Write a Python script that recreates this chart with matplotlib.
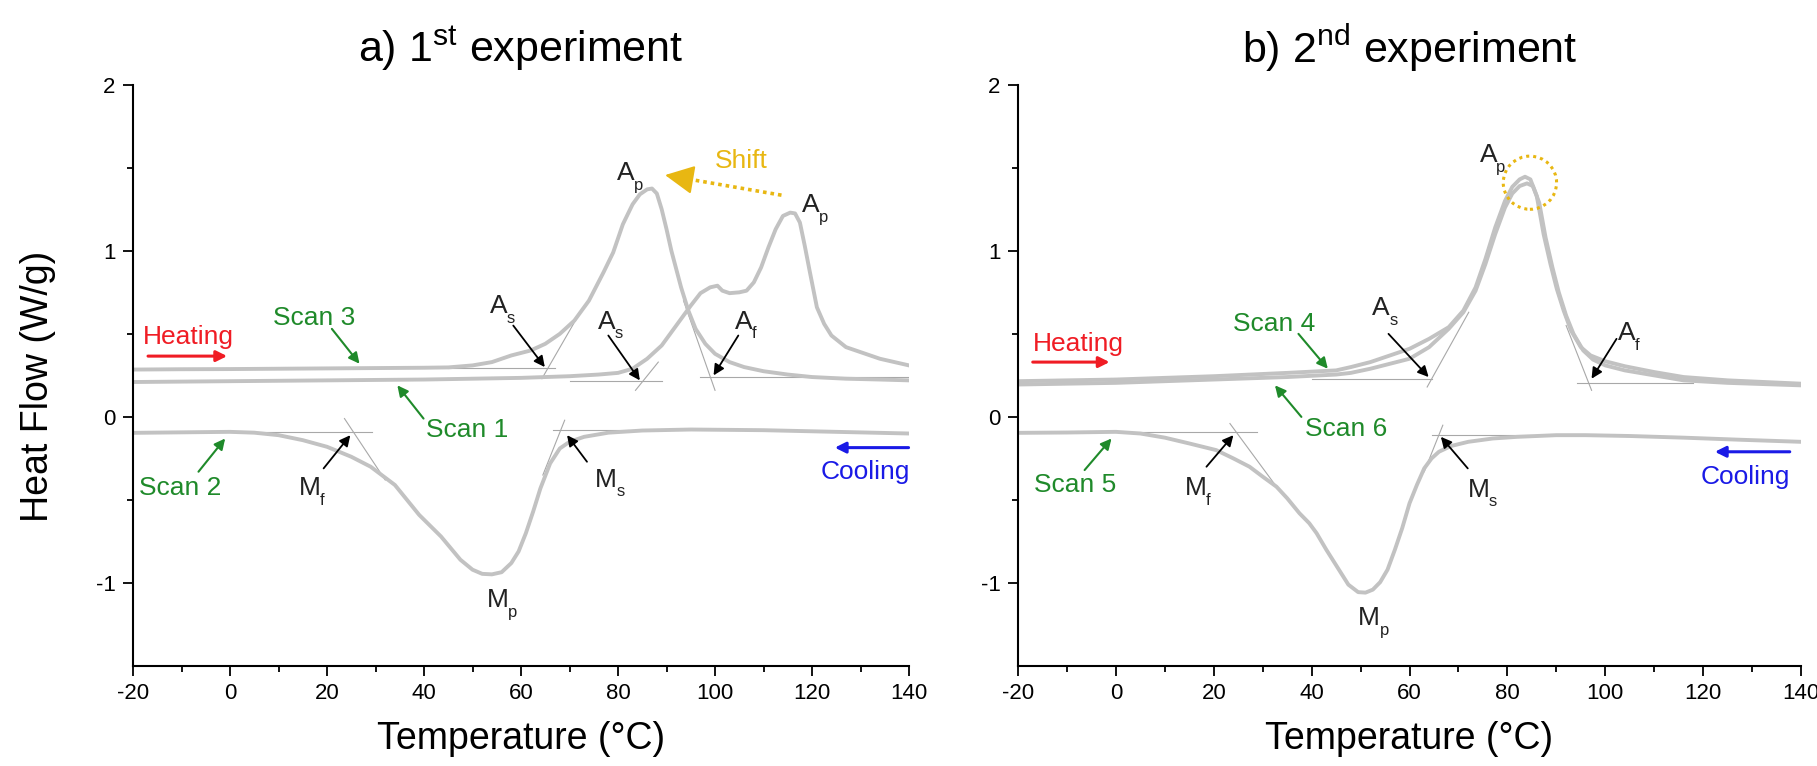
import numpy as np
import matplotlib
matplotlib.use("Agg")
import matplotlib.pyplot as plt
from matplotlib.patches import Ellipse

plt.rcParams['font.family'] = ['Liberation Sans', 'DejaVu Sans']
plt.rcParams['mathtext.fontset'] = 'custom'
plt.rcParams['mathtext.rm'] = 'Liberation Sans'
plt.rcParams['axes.unicode_minus'] = False

# ---- data (Temperature in C, heat flow in W/g) ----
# 1st experiment
scan3_t = [-20, -10, 0, 10, 20, 30, 40, 45, 50, 54, 58, 62, 65, 68, 71, 74, 77, 79, 81, 83, 84.5, 86, 87,
           88, 89, 90, 91, 92, 93, 94.5, 96, 98, 100, 103, 106, 110, 115, 120, 127, 134, 140]
scan3_v = [0.285, 0.287, 0.288, 0.29, 0.292, 0.294, 0.296, 0.298, 0.31, 0.33, 0.37, 0.40, 0.44, 0.50, 0.58,
           0.70, 0.87, 0.99, 1.16, 1.28, 1.34, 1.37, 1.375, 1.345, 1.25, 1.13, 1.00, 0.89, 0.78, 0.64, 0.53,
           0.44, 0.38, 0.33, 0.30, 0.275, 0.255, 0.24, 0.23, 0.225, 0.22]

scan1_t = [-20, 0, 20, 40, 60, 70, 76, 80, 83, 86, 89, 92, 95, 97, 99, 100.5, 101.5, 103, 105, 106.5, 108,
           109.5, 111, 112.5, 114, 115.5, 116.5, 117.5, 118.5, 119.5, 121, 122.5, 124, 127, 130, 134, 140]
scan1_v = [0.21, 0.215, 0.22, 0.225, 0.235, 0.245, 0.255, 0.265, 0.29, 0.35, 0.43, 0.55, 0.67, 0.745, 0.78,
           0.79, 0.76, 0.745, 0.75, 0.76, 0.81, 0.90, 1.02, 1.13, 1.21, 1.23, 1.225, 1.17, 1.03, 0.88, 0.66,
           0.56, 0.49, 0.42, 0.39, 0.35, 0.31]

scan2_t = [-20, -10, 0, 5, 10, 15, 20, 25, 29, 34, 39, 43.5, 47.5, 50, 52, 54, 56, 58, 59.5, 61, 62.5, 64,
           66, 68, 70, 73, 78, 85, 95, 110, 125, 140]
scan2_v = [-0.096, -0.093, -0.09, -0.095, -0.11, -0.14, -0.18, -0.24, -0.30, -0.41, -0.59, -0.72, -0.86,
           -0.92, -0.945, -0.948, -0.935, -0.88, -0.81, -0.70, -0.57, -0.43, -0.28, -0.19, -0.15, -0.12,
           -0.095, -0.082, -0.076, -0.08, -0.09, -0.10]

# 2nd experiment
scan4_t = [-20, 0, 20, 35, 45, 48, 52, 56, 60, 64, 68, 71, 73.5, 75.5, 77.5, 79.5, 81, 82.5, 83.6, 84.7,
           86, 87.4, 88.8, 90.1, 91.5, 93, 95, 97, 100, 104, 110, 116, 125, 140]
scan4_v = [0.215, 0.225, 0.245, 0.265, 0.28, 0.30, 0.33, 0.37, 0.41, 0.47, 0.54, 0.64, 0.78, 0.95, 1.14,
           1.30, 1.385, 1.43, 1.446, 1.43, 1.33, 1.10, 0.92, 0.77, 0.64, 0.52, 0.42, 0.37, 0.335, 0.305,
           0.27, 0.24, 0.22, 0.20]

scan6_t = [-20, 0, 20, 35, 45, 48, 52, 56, 60, 64, 68, 71, 73.5, 75.5, 77.5, 79.5, 81, 82.5, 84, 85.2,
           86.5, 87.8, 89.2, 90.5, 92, 93.5, 95.5, 97.5, 100, 104, 110, 116, 125, 140]
scan6_v = [0.195, 0.205, 0.225, 0.24, 0.255, 0.265, 0.29, 0.32, 0.35, 0.42, 0.53, 0.63, 0.76, 0.92, 1.10,
           1.26, 1.345, 1.39, 1.406, 1.39, 1.29, 1.08, 0.90, 0.75, 0.61, 0.50, 0.40, 0.345, 0.31, 0.28,
           0.25, 0.22, 0.205, 0.19]

scan5_t = [-20, -10, 0, 5, 10, 15, 20.5, 24, 27.3, 30, 32.8, 35, 37.5, 39.5, 41, 43, 44.5, 46, 47.5, 49.5,
           51, 52.5, 54, 55.5, 57, 58.5, 60, 61.5, 63, 64.5, 66, 68.5, 72, 77, 82, 90, 96, 105, 116, 128, 140]
scan5_v = [-0.096, -0.094, -0.09, -0.10, -0.125, -0.16, -0.20, -0.25, -0.30, -0.36, -0.42, -0.49, -0.58,
           -0.64, -0.70, -0.80, -0.87, -0.94, -1.01, -1.055, -1.058, -1.04, -0.995, -0.92, -0.80, -0.67,
           -0.52, -0.41, -0.31, -0.25, -0.21, -0.175, -0.15, -0.13, -0.12, -0.11, -0.11, -0.115, -0.125,
           -0.138, -0.15]

# onset / end construction lines: ((t0, v0), (t1, v1))
guides_a = [((45, 0.295), (67, 0.295)), ((64.3, 0.23), (72, 0.62)),
            ((70, 0.217), (89, 0.217)), ((83.6, 0.16), (88.3, 0.33)),
            ((97, 0.24), (140, 0.24)), ((93.5, 0.70), (100, 0.16)),
            ((0, -0.09), (29.3, -0.09)), ((23.6, -0.01), (32, -0.38)),
            ((66.5, -0.08), (82, -0.08)), ((64.5, -0.35), (69, -0.02))]
guides_b = [((40, 0.23), (64.5, 0.23)), ((63.6, 0.18), (72.1, 0.63)),
            ((94.2, 0.205), (118, 0.205)), ((92, 0.55), (97.2, 0.16)),
            ((0, -0.09), (28.9, -0.09)), ((23.3, -0.04), (32.8, -0.42)),
            ((64.5, -0.11), (85, -0.11)), ((63.0, -0.33), (66.8, -0.05))]

# labels: (t, v, letter, subscript), t/v = left-baseline of the main letter
labels_a = [(79.7, 1.426, 'A', 'p'), (117.9, 1.235, 'A', 'p'), (53.6, 0.623, 'A', 's'),
            (75.9, 0.532, 'A', 's'), (104.1, 0.532, 'A', 'f'), (14.2, -0.47, 'M', 'f'),
            (75.3, -0.42, 'M', 's'), (53.0, -1.145, 'M', 'p')]
labels_b = [(74.3, 1.536, 'A', 'p'), (52.4, 0.613, 'A', 's'), (102.6, 0.462, 'A', 'f'),
            (14.1, -0.472, 'M', 'f'), (71.9, -0.48, 'M', 's'), (49.5, -1.255, 'M', 'p')]

# black pointer arrows: (from, to)
pointers_a = [((58.4, 0.55), (64.9, 0.30)), ((78.0, 0.49), (84.5, 0.22)), ((104.8, 0.49), (99.7, 0.25)),
              ((19.3, -0.31), (24.8, -0.11)), ((73.6, -0.27), (69.5, -0.11))]
pointers_b = [((55.7, 0.50), (63.9, 0.24)), ((102.3, 0.47), (97.2, 0.23)),
              ((18.5, -0.30), (24.0, -0.11)), ((71.9, -0.31), (66.4, -0.12))]

# scan labels: (text, text position, arrow from, arrow to)
scans_a = [('Scan 3', (17.4, 0.594), (21, 0.53), (26.7, 0.32)),
           ('Scan 1', (48.9, -0.08), (39.9, -0.01), (34.5, 0.19)),
           ('Scan 2', (-10.2, -0.43), (-6.5, -0.33), (-1.0, -0.13))]
scans_b = [('Scan 4', (32.4, 0.56), (37.3, 0.50), (43.3, 0.29)),
           ('Scan 6', (47.1, -0.07), (37.9, 0.0), (32.5, 0.19)),
           ('Scan 5', (-8.4, -0.41), (-6.4, -0.32), (-0.9, -0.13))]

heat_a = ((-8.5, 0.48), (-16.9, 0.366), (-0.6, 0.366))
heat_b = ((-7.6, 0.44), (-17.0, 0.33), (-1.3, 0.33))
cool_a = ((130.9, -0.33), (139.9, -0.185), (124.7, -0.185))
cool_b = ((128.7, -0.36), (137.7, -0.21), (122.4, -0.21))

shift_text = (105.5, 1.54)
shift_line = ((113.7, 1.335), (93.5, 1.437))
shift_head = ((93.5, 1.437), (89.7, 1.456))
peak_ring = (84.6, 1.41, 10.9, 0.32)

CURVE = '#c2c2c2'
GUIDE = '#a8a8a8'
GREEN = '#1f8a2a'
RED = '#f01c24'
BLUE = '#1a1ae6'
GOLD = '#e8b712'
FS = 19
SUB_FS = 12
LETTER_W = {'A': 0.667 * FS, 'M': 0.833 * FS}

fig = plt.figure(figsize=(18.17, 7.66), dpi=100)
ax1 = fig.add_axes([0.0732, 0.1305, 0.4271, 0.7589])
ax2 = fig.add_axes([0.5603, 0.1305, 0.4309, 0.7589])


def style(ax, title):
    ax.set_xlim(-20, 140)
    ax.set_ylim(-1.5, 2)
    ax.set_xticks(np.arange(-20, 141, 20))
    ax.set_xticks(np.arange(-10, 140, 20), minor=True)
    ax.set_yticks([-1, 0, 1, 2])
    ax.set_yticks([-0.5, 0.5, 1.5], minor=True)
    for s in ['top', 'right']:
        ax.spines[s].set_visible(False)
    for s in ['left', 'bottom']:
        ax.spines[s].set_linewidth(1.5)
    ax.tick_params(which='major', direction='out', length=7.5, width=1.3, labelsize=16, pad=5)
    ax.tick_params(which='minor', direction='out', length=4, width=1.3)
    ax.set_title(title, fontsize=31, pad=16)
    ax.set_xlabel('Temperature (°C)', fontsize=27)
    ax.xaxis.set_label_coords(0.5, -0.095)
    ax.xaxis.label.set_va('top')


def decorate(ax, guides, labels, pointers, scans, heat, cool):
    for (t0, v0), (t1, v1) in guides:
        ax.plot([t0, t1], [v0, v1], color=GUIDE, lw=0.8, zorder=1)
    for t, v, letter, sub in labels:
        ax.text(t, v, letter, fontsize=FS, color='#222222', ha='left', va='baseline')
        ax.annotate(sub, xy=(t, v), xytext=(LETTER_W[letter] - 0.5, -7), textcoords='offset points',
                    fontsize=SUB_FS, color='#222222', ha='left', va='baseline')
    for p0, p1 in pointers:
        ax.annotate('', xy=p1, xytext=p0,
                    arrowprops=dict(arrowstyle='-|>', color='k', lw=1.3, mutation_scale=16,
                                    shrinkA=0, shrinkB=0))
    for txt, pos, p0, p1 in scans:
        ax.text(pos[0], pos[1], txt, color=GREEN, fontsize=FS, ha='center', va='center')
        ax.annotate('', xy=p1, xytext=p0,
                    arrowprops=dict(arrowstyle='-|>', color=GREEN, lw=1.5, mutation_scale=16,
                                    shrinkA=0, shrinkB=0))
    ax.text(heat[0][0], heat[0][1], 'Heating', color=RED, fontsize=FS, ha='center', va='center')
    ax.annotate('', xy=heat[2], xytext=heat[1],
                arrowprops=dict(arrowstyle='-|>', color=RED, lw=2.2, mutation_scale=16,
                                shrinkA=0, shrinkB=0))
    ax.text(cool[0][0], cool[0][1], 'Cooling', color=BLUE, fontsize=FS, ha='center', va='center')
    ax.annotate('', xy=cool[2], xytext=cool[1],
                arrowprops=dict(arrowstyle='-|>', color=BLUE, lw=2.2, mutation_scale=16,
                                shrinkA=0, shrinkB=0))


# panel a
style(ax1, r'a) 1$^{\mathregular{st}}$ experiment')
ax1.plot(scan3_t, scan3_v, color=CURVE, lw=2.8, zorder=2)
ax1.plot(scan1_t, scan1_v, color=CURVE, lw=2.8, zorder=2)
ax1.plot(scan2_t, scan2_v, color=CURVE, lw=2.8, zorder=2)
decorate(ax1, guides_a, labels_a, pointers_a, scans_a, heat_a, cool_a)
ax1.text(shift_text[0], shift_text[1], 'Shift', color=GOLD, fontsize=FS, ha='center', va='center')
ax1.plot([shift_line[0][0], shift_line[1][0]], [shift_line[0][1], shift_line[1][1]],
         color=GOLD, lw=2.6, linestyle=(0, (1, 1.1)), zorder=3)
ax1.annotate('', xy=shift_head[1], xytext=shift_head[0],
             arrowprops=dict(arrowstyle='-|>,head_length=1.0,head_width=0.5', color=GOLD, lw=1.5,
                             mutation_scale=18, shrinkA=0, shrinkB=0))
ax1.set_ylabel('Heat Flow (W/g)', fontsize=27)
ax1.yaxis.set_label_coords(-0.099, 0.481)

# panel b
style(ax2, r'b) 2$^{\mathregular{nd}}$ experiment')
ax2.plot(scan4_t, scan4_v, color=CURVE, lw=2.8, zorder=2)
ax2.plot(scan6_t, scan6_v, color=CURVE, lw=2.8, zorder=2)
ax2.plot(scan5_t, scan5_v, color=CURVE, lw=2.8, zorder=2)
decorate(ax2, guides_b, labels_b, pointers_b, scans_b, heat_b, cool_b)
ax2.add_patch(Ellipse((peak_ring[0], peak_ring[1]), peak_ring[2], peak_ring[3], fill=False,
                      edgecolor=GOLD, lw=2.2, linestyle=(0, (1, 1.3)), zorder=3))

fig.savefig('out.png', dpi=100)
